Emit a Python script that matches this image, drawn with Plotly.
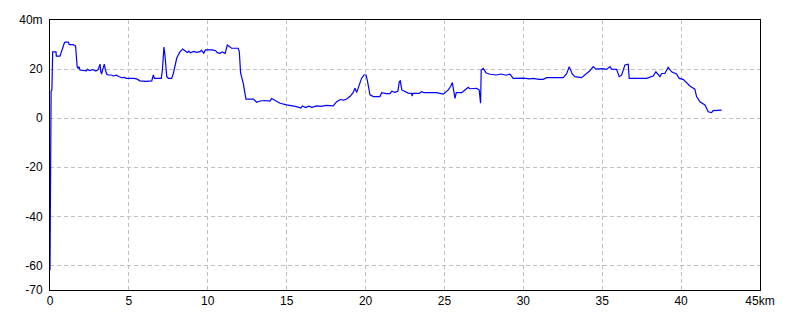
import plotly.graph_objects as go

distance_km = [0, 0.03, 0.07, 0.12, 0.17, 0.38, 0.40, 0.63, 0.70, 0.80, 0.90, 0.95, 1.16, 1.22, 1.48, 1.55, 1.62, 1.66, 1.72, 1.78, 1.84, 1.90, 2.1, 2.3, 2.37, 2.5, 2.7, 2.9, 3.05, 3.17, 3.22, 3.27, 3.35, 3.44, 3.5, 3.59, 3.7, 3.9, 4.01, 4.2, 4.36, 4.54, 4.7, 4.86, 5.3, 5.5, 5.70, 6.1, 6.45, 6.55, 6.62, 7.05, 7.12, 7.22, 7.28, 7.33, 7.40, 7.50, 7.71, 7.81, 7.92, 8.03, 8.15, 8.24, 8.41, 8.55, 8.7, 8.8, 8.9, 9.1, 9.3, 9.51, 9.6, 9.75, 9.85, 10.3, 10.5, 10.6, 10.77, 10.9, 11.1, 11.24, 11.35, 11.51, 11.93, 12.0, 12.08, 12.25, 12.42, 12.89, 13.1, 13.31, 13.6, 13.94, 14.05, 14.2, 14.58, 15.0, 15.3, 15.63, 15.9, 16.0, 16.2, 16.4, 16.6, 16.9, 17.2, 17.5, 17.95, 18.17, 18.4, 18.6, 18.8, 19.01, 19.2, 19.33, 19.44, 19.6, 19.75, 19.9, 20.03, 20.11, 20.28, 20.5, 20.91, 21.02, 21.3, 21.55, 21.66, 21.86, 22.05, 22.14, 22.2, 22.3, 22.5, 22.7, 22.92, 22.95, 23.0, 23.4, 23.55, 23.7, 24.5, 24.93, 25.24, 25.4, 25.5, 25.6, 25.67, 25.75, 26.09, 26.3, 26.51, 26.6, 27.04, 27.2, 27.29, 27.33, 27.46, 27.63, 27.88, 28.3, 28.6, 28.9, 29.15, 29.36, 30.0, 30.4, 30.63, 31.0, 31.26, 31.48, 32.0, 32.53, 32.74, 32.91, 33.1, 33.27, 33.69, 34.01, 34.2, 34.43, 34.6, 35.0, 35.28, 35.49, 35.6, 35.91, 36.08, 36.23, 36.44, 36.65, 36.71, 37.81, 38.23, 38.4, 38.66, 38.76, 38.97, 39.18, 39.4, 39.71, 39.88, 40.13, 40.35, 40.56, 40.87, 40.98, 41.19, 41.51, 41.72, 41.93, 42.03, 42.57]
elevation_m = [-62, -32, 11, 11.5, 27, 27, 25.3, 25.3, 27, 28.5, 30.5, 31, 31, 30, 30, 29.5, 29.5, 24, 21, 20.3, 21, 19.6, 19.3, 19.3, 19.9, 19.4, 19.8, 19.2, 19.8, 22, 19, 18, 20, 22, 20, 18, 17.6, 17.6, 17.2, 17.5, 17.0, 16.5, 16.6, 16.2, 16.2, 16.0, 15.2, 15.0, 15.2, 17.6, 16.2, 16.2, 19.3, 29, 26, 23, 17, 16.2, 16.2, 18, 21, 24.4, 26, 27, 28.2, 27.5, 26.8, 27.3, 26.6, 27.2, 26.8, 27.1, 27.6, 26.5, 27.8, 27.8, 27.5, 26.7, 26.4, 27.0, 26.4, 29.8, 29.2, 28.5, 28.5, 27, 18.3, 14.2, 7.8, 7.8, 6.5, 7, 7.2, 7, 8, 7.4, 6.1, 5.4, 5.2, 4.7, 4.1, 5.0, 4.3, 4.9, 4.4, 5, 4.8, 5.2, 5, 6.7, 7.6, 7.4, 7.8, 8.8, 10.3, 12.2, 10.5, 13.6, 16.3, 17.6, 17.6, 15.5, 9.5, 8.8, 8.8, 10.4, 10.0, 10, 11, 10.5, 11, 14.9, 15.2, 11.5, 10.8, 10.2, 10.1, 9.0, 10.1, 10.1, 10.8, 10.4, 10.4, 9.8, 11.5, 13.0, 14.5, 11.0, 8.1, 10.4, 10.4, 11.5, 12.6, 12.0, 12.2, 11.5, 6.1, 19.6, 20.3, 18.5, 17.9, 17.6, 18.0, 17.5, 17.9, 16.2, 16.3, 16.0, 16.2, 15.8, 15.8, 16.5, 16.4, 16.5, 18, 21, 18, 16.9, 16.5, 18.4, 19.2, 21, 20, 20.2, 19.9, 21, 20, 19.9, 16.9, 17.5, 21.7, 22, 16.2, 16.2, 17.2, 18.9, 16.9, 18.2, 18.2, 20.7, 18.9, 18, 16.2, 15.8, 14.2, 13.1, 11.8, 8.8, 6.7, 5.4, 2.6, 2.3, 3.1, 3.3]

x_tickvals = [0, 5, 10, 15, 20, 25, 30, 35, 40, 45]
x_ticktext = ["0", "5", "10", "15", "20", "25", "30", "35", "40", "45km"]
y_tickvals = [-70, -60, -40, -20, 0, 20, 40]
y_ticktext = ["-70", "-60", "-40", "-20", "0", "20", "40m"]

fig = go.Figure()
fig.add_trace(go.Scatter(x=distance_km, y=elevation_m, mode="lines",
                         line=dict(color="#0000ff", width=1.2), hoverinfo="skip"))

axis_common = dict(showline=True, linecolor="black", linewidth=1, mirror=True,
                   showgrid=True, gridcolor="#c0c0c0", griddash="4px,3px", gridwidth=1,
                   zeroline=False, ticks="", tickfont=dict(family="Liberation Sans", size=12, color="black"))

fig.update_layout(
    width=800, height=320,
    margin=dict(l=50, r=40, t=20, b=30),
    paper_bgcolor="white", plot_bgcolor="white",
    showlegend=False,
    xaxis=dict(range=[0, 45], tickvals=x_tickvals, ticktext=x_ticktext, **axis_common),
    yaxis=dict(range=[-70, 40], tickvals=y_tickvals, ticktext=y_ticktext, ticklabelstandoff=4, **axis_common),
)

fig.write_html("out.html")
